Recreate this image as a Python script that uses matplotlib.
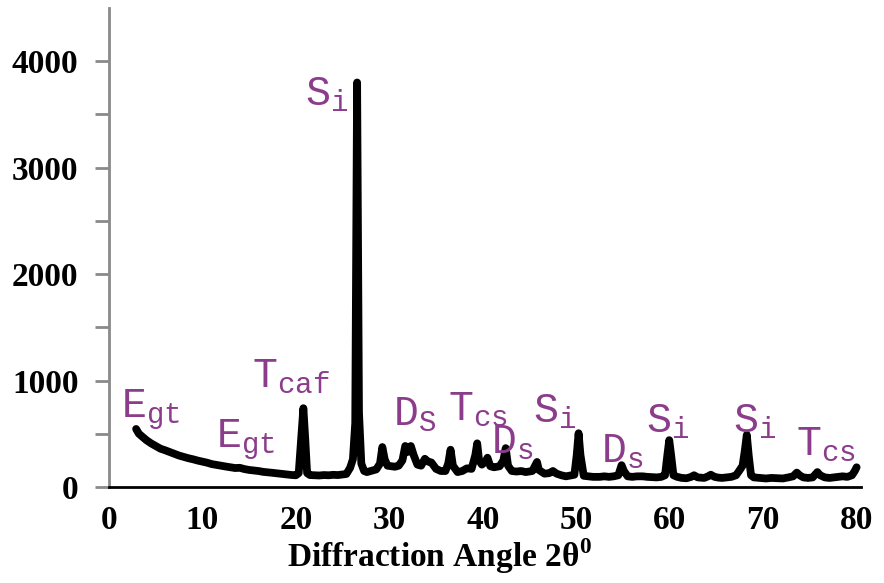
import matplotlib
matplotlib.use("Agg")
import matplotlib.pyplot as plt
from matplotlib.font_manager import FontProperties

# XRD pattern: diffraction angle (2-theta, degrees) and intensity (counts)
two_theta = [
    2.9, 3.2, 3.6, 4.0, 4.5, 5.0, 5.5, 6.0, 6.5, 7.0, 7.5, 8.0, 8.5, 9.0, 9.5,
    10.0, 10.5, 11.0, 11.5, 12.0, 12.5, 13.0, 13.5, 14.0, 14.5, 15.0, 15.5,
    16.0, 16.5, 17.0, 17.5, 18.0, 18.5, 19.0, 19.5, 20.0, 20.3, 20.6, 20.8,
    21.0, 21.2, 21.5, 22.0, 22.5, 23.0, 23.5, 24.0, 24.5, 25.0, 25.4, 25.8,
    26.1, 26.35, 26.55, 26.75, 27.0, 27.3, 27.6, 28.0, 28.6, 29.0, 29.25,
    29.5, 29.8, 30.2, 30.6, 31.0, 31.4, 31.7, 32.0, 32.3, 32.6, 33.0, 33.4,
    33.8, 34.1, 34.5, 35.0, 35.5, 36.0, 36.3, 36.55, 36.8, 37.3, 37.8, 38.3,
    38.8, 39.2, 39.4, 39.6, 39.9, 40.3, 40.5, 40.8, 41.2, 41.8, 42.2, 42.45,
    42.7, 43.1, 43.6, 44.1, 44.6, 45.3, 45.6, 45.8, 46.0, 46.6, 47.1, 47.5,
    47.9, 48.4, 48.9, 49.4, 49.8, 50.05, 50.25, 50.45, 50.8, 51.3, 51.8,
    52.5, 53.0, 53.5, 54.0, 54.5, 54.85, 55.1, 55.5, 56.0, 56.5, 57.1, 57.6,
    58.1, 58.6, 59.1, 59.5, 59.75, 59.95, 60.15, 60.4, 60.8, 61.3, 61.8,
    62.3, 62.6, 63.0, 63.7, 64.1, 64.4, 64.8, 65.2, 65.6, 66.1, 66.6, 67.1,
    67.5, 67.8, 68.05, 68.25, 68.45, 68.7, 69.0, 69.6, 70.3, 70.9, 71.5,
    72.1, 72.7, 73.2, 73.6, 73.9, 74.3, 74.8, 75.3, 75.8, 76.1, 76.6, 77.1,
    77.6, 78.1, 78.5, 79.0, 79.5, 79.8, 80.0,
]
intensity = [
    545, 500, 470, 440, 410, 385, 360, 345, 328, 310, 295, 282, 270, 260, 248,
    238, 228, 215, 207, 200, 192, 185, 178, 180, 168, 160, 155,
    150, 142, 138, 133, 128, 122, 118, 113, 110, 130, 500, 740,
    450, 130, 112, 110, 108, 112, 110, 114, 112, 118, 122, 180,
    260, 600, 3800, 700, 220, 150, 140, 150, 165, 220, 375,
    260, 200, 195, 190, 200, 250, 385, 330, 385, 300, 210, 200,
    265, 240, 230, 170, 150, 150, 220, 350, 200, 140, 150, 175,
    170, 300, 410, 250, 210, 240, 275, 195, 185, 195, 250, 365,
    200, 150, 145, 150, 140, 150, 200, 235, 160, 125, 130, 150,
    125, 110, 100, 108, 115, 300, 505, 300, 105, 100, 95,
    95, 100, 95, 100, 110, 205, 150, 100, 95, 100, 100, 95,
    92, 90, 95, 110, 300, 440, 300, 110, 95, 85, 82,
    95, 110, 90, 85, 100, 115, 95, 88, 85, 90, 95, 110,
    160, 200, 350, 490, 300, 110, 90, 85, 80, 85, 82,
    80, 90, 100, 135, 110, 90, 85, 90, 140, 110, 90, 85,
    90, 95, 100, 95, 110, 150, 185,
]

# Phase labels: main letter, subscript, anchor (2-theta, intensity)
label_main = ["E", "E", "T", "S", "D", "T", "D", "S", "D", "S", "S", "T"]
label_sub = ["gt", "gt", "caf", "i", "S", "cs", "s", "i", "s", "i", "i", "cs"]
label_x = [1.3, 11.5, 15.3, 21.0, 30.4, 36.3, 40.9, 45.4, 52.6, 57.5, 66.8, 73.5]
label_y = [655, 375, 940, 3590, 582, 625, 315, 610, 235, 515, 515, 300]

y_ticks = [0, 1000, 2000, 3000, 4000]
y_minor_ticks = [500, 1500, 2500, 3500]
x_ticks = [0, 10, 20, 30, 40, 50, 60, 70, 80]

plt.rcParams["mathtext.fontset"] = "custom"
plt.rcParams["mathtext.rm"] = "Liberation Mono"
plt.rcParams["mathtext.it"] = "Liberation Mono"
plt.rcParams["mathtext.bf"] = "Liberation Serif:bold"

fig = plt.figure(figsize=(8.84, 5.83), dpi=100)
ax = fig.add_axes([0.1233, 0.1647, 0.851, 0.8216])

ax.plot(two_theta, intensity, color="black", lw=5.6,
        solid_joinstyle="round", solid_capstyle="round")

label_color = "#8B3D8B"
for m, s, x, y in zip(label_main, label_sub, label_x, label_y):
    ax.text(x, y, r"$\mathrm{%s}_{\mathrm{%s}}$" % (m, s), color=label_color,
            fontsize=30, ha="left", va="baseline")

ax.set_xlim(0, 80.5)
ax.set_ylim(0, 4500)

ax.spines["top"].set_visible(False)
ax.spines["right"].set_visible(False)
ax.spines["left"].set_color("#8a8a8a")
ax.spines["left"].set_linewidth(2)
ax.spines["bottom"].set_color("black")
ax.spines["bottom"].set_linewidth(2)

ax.set_yticks(y_ticks)
ax.set_yticks(y_minor_ticks, minor=True)
ax.set_xticks(x_ticks)
ax.tick_params(axis="y", which="both", direction="out", length=10, width=2,
               color="#8a8a8a", pad=12)
ax.tick_params(axis="x", which="both", length=0, pad=13)

tick_font = FontProperties(family="Liberation Serif", weight="bold", size=24)
for lab in ax.get_yticklabels() + ax.get_xticklabels():
    lab.set_fontproperties(tick_font)

fig.text(0.497, 0.03, r"Diffraction Angle 2θ$^{\mathbf{0}}$", ha="center",
         va="baseline", family="Liberation Serif", weight="bold", size=24)

fig.savefig("out.png", dpi=100)
